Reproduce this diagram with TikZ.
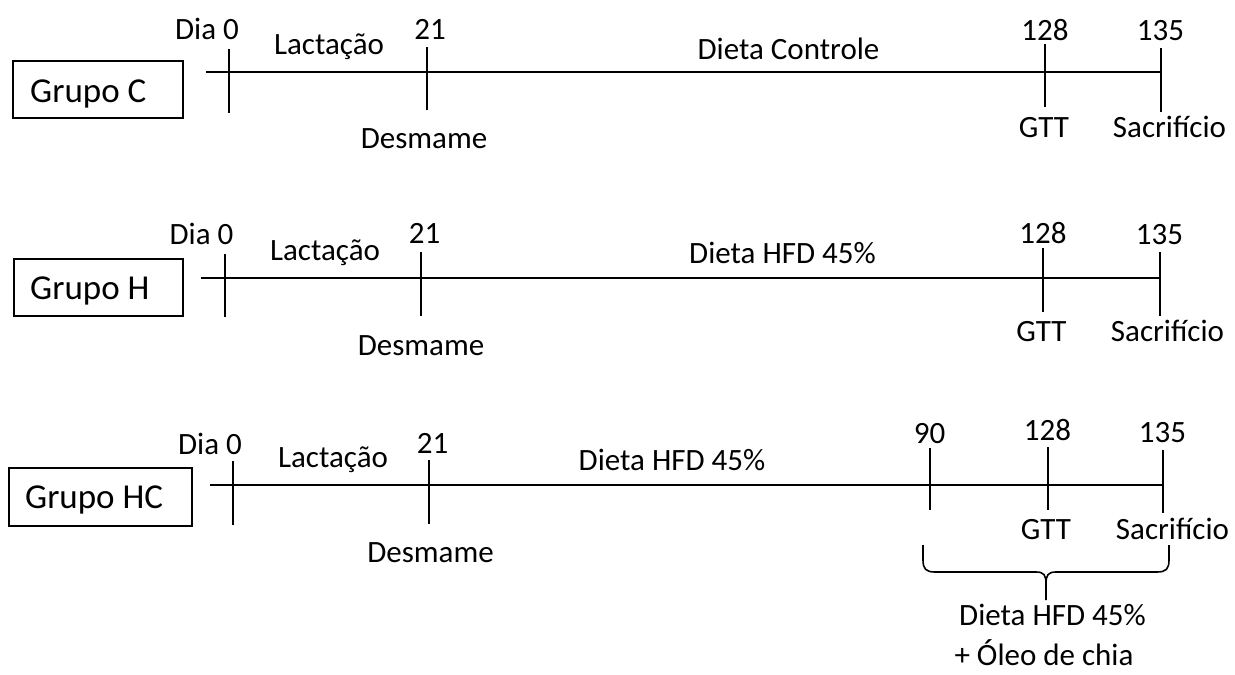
\documentclass[tikz,border=0pt]{standalone}
\usepackage{fontspec}
\setmainfont{Carlito}
\begin{document}
\begin{tikzpicture}[x=1pt,y=-1pt,
  line/.style={line width=2pt, black},
  lbl/.style={anchor=base, inner sep=0pt, font=\fontsize{31}{36}\selectfont},
  grp/.style={anchor=base west, inner sep=0pt, font=\fontsize{35}{40}\selectfont},
  gbox/.style={draw, line width=1.8pt, inner sep=0pt}]
\useasboundingbox (0,0) rectangle (1235,675);

% ---------- Grupo C ----------
\node[gbox, minimum width=170pt, minimum height=57pt] (boxC) at (98,89.5) {};
\node[grp] (gC) at (30,102) {Grupo C};
\coordinate (c-s) at (206,72); \coordinate (c-e) at (1161,72);
\draw[line] (c-s) -- (c-e);
\coordinate (c0a) at (229,49);  \coordinate (c0b) at (229,113);
\coordinate (c21a) at (427,47); \coordinate (c21b) at (427,110);
\coordinate (c128a) at (1045,44); \coordinate (c128b) at (1045,107);
\coordinate (c135a) at (1161,48); \coordinate (c135b) at (1161,112);
\draw[line] (c0a) -- (c0b);
\draw[line] (c21a) -- (c21b);
\draw[line] (c128a) -- (c128b);
\draw[line] (c135a) -- (c135b);
\node[lbl] (cDia) at (207,39) {Dia 0};
\node[lbl] (cLac) at (329,54) {Lactação};
\node[lbl] (c21) at (430,39) {21};
\node[lbl] (cDes) at (424,148) {Desmame};
\node[lbl] (cDiet) at (788.5,59) {Dieta Controle};
\node[lbl] (c128) at (1045,40) {128};
\node[lbl] (c135) at (1160.5,40) {135};
\node[lbl] (cGTT) at (1044,137) {GTT};
\node[lbl] (cSac) at (1169.5,137) {Sacrifício};

% ---------- Grupo H ----------
\node[gbox, minimum width=169pt, minimum height=57pt] (boxH) at (98.5,287.5) {};
\node[grp] (gH) at (30,299) {Grupo H};
\coordinate (h-s) at (201,278); \coordinate (h-e) at (1160,278);
\draw[line] (h-s) -- (h-e);
\coordinate (h0a) at (225,254);  \coordinate (h0b) at (225,317);
\coordinate (h21a) at (421,252); \coordinate (h21b) at (421,316);
\coordinate (h128a) at (1043,248); \coordinate (h128b) at (1043,312);
\coordinate (h135a) at (1160,252); \coordinate (h135b) at (1160,316);
\draw[line] (h0a) -- (h0b);
\draw[line] (h21a) -- (h21b);
\draw[line] (h128a) -- (h128b);
\draw[line] (h135a) -- (h135b);
\node[lbl] (hDia) at (201.5,244) {Dia 0};
\node[lbl] (hLac) at (325,260) {Lactação};
\node[lbl] (h21) at (424.5,243) {21};
\node[lbl] (hDes) at (421,355) {Desmame};
\node[lbl] (hDiet) at (782.5,263) {Dieta HFD 45\%};
\node[lbl] (h128) at (1043,243) {128};
\node[lbl] (h135) at (1159.5,244) {135};
\node[lbl] (hGTT) at (1041.5,341) {GTT};
\node[lbl] (hSac) at (1167.5,341) {Sacrifício};

% ---------- Grupo HC ----------
\node[gbox, minimum width=183pt, minimum height=58pt] (boxHC) at (100.5,497) {};
\node[grp] (gHC) at (25,508) {Grupo HC};
\coordinate (x-s) at (210,485); \coordinate (x-e) at (1163,485);
\draw[line] (x-s) -- (x-e);
\coordinate (x0a) at (233,461);  \coordinate (x0b) at (233,525);
\coordinate (x21a) at (429,460); \coordinate (x21b) at (429,524);
\coordinate (x90a) at (930,448); \coordinate (x90b) at (930,510);
\coordinate (x128a) at (1048,447); \coordinate (x128b) at (1048,510);
\coordinate (x135a) at (1163,450); \coordinate (x135b) at (1163,513);
\draw[line] (x0a) -- (x0b);
\draw[line] (x21a) -- (x21b);
\draw[line] (x90a) -- (x90b);
\draw[line] (x128a) -- (x128b);
\draw[line] (x135a) -- (x135b);
\node[lbl] (xDia) at (210,454) {Dia 0};
\node[lbl] (xLac) at (333,467) {Lactação};
\node[lbl] (x21) at (432.5,453) {21};
\node[lbl] (xDes) at (430.5,562) {Desmame};
\node[lbl] (xDiet) at (672,470) {Dieta HFD 45\%};
\node[lbl] (x90) at (929.5,443) {90};
\node[lbl] (x128) at (1047.5,440) {128};
\node[lbl] (x135) at (1162.5,442) {135};
\node[lbl] (xGTT) at (1046,539) {GTT};
\node[lbl] (xSac) at (1172.5,539) {Sacrifício};

% brace
\coordinate (bL) at (923,545);
\coordinate (bR) at (1169,545);
\coordinate (bT) at (1046,600);
\draw[line, line width=1.6pt]
  (bL) -- (923,560) .. controls (923,569) and (926,572) .. (935,572)
  -- (1036,572) .. controls (1044,572) and (1046,575) .. (1046,584) -- (bT);
\draw[line, line width=1.6pt]
  (bR) -- (1169,560) .. controls (1169,569) and (1166,572) .. (1157,572)
  -- (1056,572) .. controls (1048,572) and (1046,575) .. (1046,584);
\node[lbl] (bDiet) at (1052.5,625) {Dieta HFD 45\%};
\node[lbl] (bOleo) at (1044,665) {+ Óleo de chia};
\end{tikzpicture}
\end{document}
